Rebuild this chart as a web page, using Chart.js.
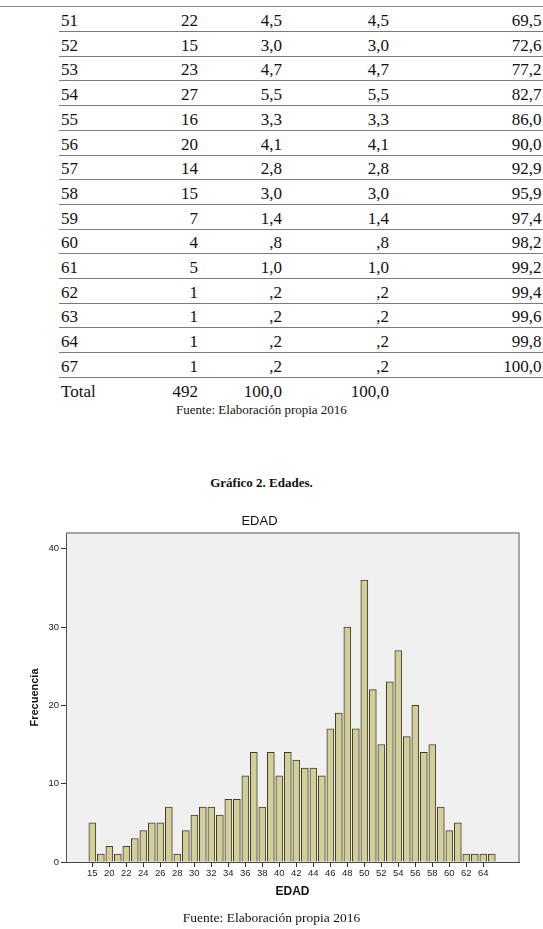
<!DOCTYPE html>
<html>
<head>
<meta charset="utf-8">
<script src="https://cdn.jsdelivr.net/npm/chart.js@4/dist/chart.umd.min.js"></script>
<style>
  body { margin: 0; background: #fff; }
  #page { position: relative; width: 543px; height: 929px; overflow: hidden; font-family: "Liberation Serif", "Times New Roman", serif; color: #111; }
  .cell { position: absolute; font-size: 17px; line-height: 20px; white-space: nowrap; }
  .linea { position: absolute; height: 1px; background: #7a7a7a; }
  .centro { position: absolute; left: 0; width: 543px; text-align: center; white-space: nowrap; }
  #grafico { position: absolute; left: 0; top: 500px; }
</style>
</head>
<body>
<div id="page">
  <div class="linea" style="left:0;top:6px;width:543px;background:#8a8a8a"></div>
  <div id="tabla"></div>
  <div class="centro" style="top:402px;font-size:13px;line-height:16px;width:523px">Fuente: Elaboración propia 2016</div>
  <div class="centro" style="top:475px;font-size:13px;line-height:16px;font-weight:bold;width:523px">Gráfico 2. Edades.</div>
  <canvas id="grafico" width="543" height="410"></canvas>
  <div class="centro" style="top:909px;font-size:13.5px;line-height:18px">Fuente: Elaboración propia 2016</div>
</div>
<script>
// tabla (continuacion)
const tablaEdad = ["51", "52", "53", "54", "55", "56", "57", "58", "59", "60", "61", "62", "63", "64", "67", "Total"];
const tablaFrec = ["22", "15", "23", "27", "16", "20", "14", "15", "7", "4", "5", "1", "1", "1", "1", "492"];
const tablaPorc = ["4,5", "3,0", "4,7", "5,5", "3,3", "4,1", "2,8", "3,0", "1,4", ",8", "1,0", ",2", ",2", ",2", ",2", "100,0"];
const tablaValido = ["4,5", "3,0", "4,7", "5,5", "3,3", "4,1", "2,8", "3,0", "1,4", ",8", "1,0", ",2", ",2", ",2", ",2", "100,0"];
const tablaAcum = ["69,5", "72,6", "77,2", "82,7", "86,0", "90,0", "92,9", "95,9", "97,4", "98,2", "99,2", "99,4", "99,6", "99,8", "100,0", ""];

// grafico
const edades = ["15", "18", "20", "21", "22", "23", "24", "25", "26", "27", "28", "29", "30", "31", "32", "33",
  "34", "35", "36", "37", "38", "39", "40", "41", "42", "43", "44", "45", "46", "47", "48", "49",
  "50", "51", "52", "53", "54", "55", "56", "57", "58", "59", "60", "61", "62", "63", "64", "67"];
const frecuencias = [5, 1, 2, 1, 2, 3, 4, 5, 5, 7, 1, 4, 6, 7, 7, 6,
  8, 8, 11, 14, 7, 14, 11, 14, 13, 12, 12, 11, 17, 19, 30, 17,
  36, 22, 15, 23, 27, 16, 20, 14, 15, 7, 4, 5, 1, 1, 1, 1];
const yTicks = [0, 10, 20, 30, 40];

const tabla = document.getElementById("tabla");
const derechas = [198, 282, 389, 541.5];
tablaEdad.forEach((edad, i) => {
  const y = 21 + i * 24.7;
  let d = document.createElement("div");
  d.className = "cell";
  d.style.left = "61px";
  d.style.top = (y - 10) + "px";
  d.textContent = edad;
  tabla.appendChild(d);
  [tablaFrec[i], tablaPorc[i], tablaValido[i], tablaAcum[i]].forEach((txt, c) => {
    const e = document.createElement("div");
    e.className = "cell";
    e.style.left = (derechas[c] - 100) + "px";
    e.style.width = "100px";
    e.style.textAlign = "right";
    e.style.top = (y - 10) + "px";
    e.textContent = txt;
    tabla.appendChild(e);
  });
  if (edad !== "Total") {
    const l = document.createElement("div");
    l.className = "linea";
    l.style.left = "59px";
    l.style.width = "484px";
    l.style.top = Math.round(y + 10) + "px";
    tabla.appendChild(l);
  }
});

const fondoPlot = {
  id: "fondoPlot",
  beforeDraw(chart) {
    const a = chart.chartArea, ctx = chart.ctx;
    ctx.save();
    ctx.fillStyle = "#f0f0f0";
    ctx.fillRect(a.left, a.top, a.right - a.left, a.bottom - a.top);
    ctx.restore();
  },
  afterDraw(chart) {
    const a = chart.chartArea, ctx = chart.ctx;
    ctx.save();
    ctx.strokeStyle = "#8c8c8c";
    ctx.lineWidth = 1.5;
    ctx.beginPath();
    ctx.moveTo(a.left, a.top);
    ctx.lineTo(a.right, a.top);
    ctx.lineTo(a.right, a.bottom);
    ctx.stroke();
    ctx.restore();
  }
};

const etiquetas = edades.map((e, i) => i).filter(i => i % 2 === 0 && i < edades.length - 1);
const fuenteEje = { family: "'Liberation Sans', Arial, sans-serif", size: 9.5 };

new Chart(document.getElementById("grafico"), {
  type: "bar",
  data: {
    datasets: [{
      data: frecuencias.map((v, i) => ({ x: i, y: v })),
      backgroundColor: "#d3ce97",
      borderColor: "#3f3f2f",
      borderWidth: 1,
      barThickness: 7
    }]
  },
  plugins: [fondoPlot],
  options: {
    responsive: false,
    animation: false,
    layout: { padding: { left: 0, right: 24, top: 0, bottom: 0 } },
    plugins: {
      legend: { display: false },
      tooltip: { enabled: false },
      title: {
        display: true,
        text: "EDAD",
        color: "#111",
        font: { family: "'Liberation Sans', Arial, sans-serif", size: 13, weight: "normal" },
        padding: { top: 14, bottom: 3.4 }
      }
    },
    scales: {
      x: {
        type: "linear",
        offset: false,
        min: -3.1,
        max: 50.2,
        afterBuildTicks: (ax) => { ax.ticks = etiquetas.map(i => ({ value: i })); },
        afterFit: (ax) => { ax.height = 48; },
        ticks: {
          autoSkip: false,
          maxRotation: 0,
          padding: 1,
          color: "#222",
          font: fuenteEje,
          callback: (v) => edades[v]
        },
        grid: { drawOnChartArea: false, tickLength: 5, color: "#333", offset: false },
        border: { color: "#444", width: 1 },
        title: {
          display: true,
          text: "EDAD",
          color: "#111",
          font: { family: "'Liberation Sans', Arial, sans-serif", size: 12, weight: "bold" },
          padding: { top: 0, bottom: 10.8 }
        }
      },
      y: {
        min: 0,
        max: 42,
        afterBuildTicks: (ax) => { ax.ticks = yTicks.map(v => ({ value: v })); },
        afterFit: (ax) => { ax.width = 66; },
        ticks: { padding: 2, color: "#222", font: fuenteEje },
        grid: { drawOnChartArea: false, tickLength: 5, color: "#333" },
        border: { color: "#555", width: 1 },
        title: {
          display: true,
          text: "Frecuencia",
          color: "#111",
          font: { family: "'Liberation Sans', Arial, sans-serif", size: 11, weight: "bold" },
          padding: { top: 28.4, bottom: 0 }
        }
      }
    }
  }
});
</script>
</body>
</html>
